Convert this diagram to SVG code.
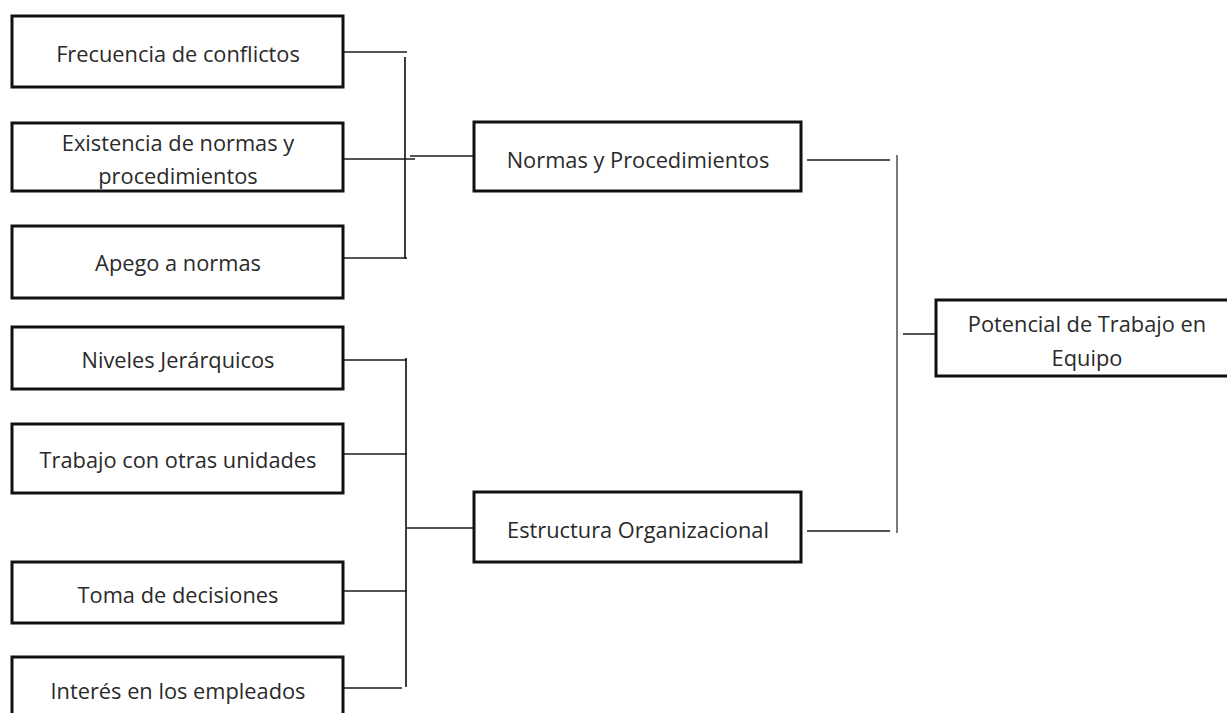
<svg xmlns="http://www.w3.org/2000/svg" width="1227" height="713" viewBox="0 0 1227 713">
  <style>
    .box { fill: #ffffff; stroke: #111111; stroke-width: 3; }
    .lbl { font-family: "Open Sans", "Liberation Sans", sans-serif; font-size: 21.8px; fill: #2a2a2a; text-anchor: middle; dominant-baseline: central; }
    .ln { stroke: #1a1a1a; stroke-width: 1.7; fill: none; }
    .lg { stroke: #7a7a7a; stroke-width: 2; fill: none; }
  </style>
  <rect width="1227" height="713" fill="#ffffff"/>

  <!-- connectors -->
  <g id="connectors">
    <!-- upper bracket -->
    <line class="ln" x1="343" y1="52" x2="407" y2="52"/>
    <line class="ln" x1="405" y1="57" x2="405" y2="259"/>
    <line class="ln" x1="343" y1="159" x2="415" y2="159"/>
    <line class="ln" x1="410" y1="156" x2="475" y2="156"/>
    <line class="ln" x1="343" y1="258" x2="407" y2="258"/>
    <!-- lower bracket -->
    <line class="ln" x1="343" y1="360" x2="407" y2="360"/>
    <line class="ln" x1="343" y1="454" x2="407" y2="454"/>
    <line class="ln" x1="406" y1="358" x2="406" y2="687"/>
    <line class="ln" x1="407" y1="528" x2="474" y2="528"/>
    <line class="ln" x1="343" y1="591" x2="407" y2="591"/>
    <line class="ln" x1="338" y1="688" x2="402" y2="688"/>
    <!-- right bracket -->
    <line class="ln" x1="807" y1="160" x2="890" y2="160"/>
    <line class="ln" x1="807" y1="531" x2="890" y2="531"/>
    <line class="lg" x1="897" y1="155" x2="897" y2="533"/>
    <line class="ln" x1="903" y1="334" x2="936" y2="334"/>
  </g>

  <g id="n-frecuencia">
    <rect class="box" x="12" y="16" width="331" height="71"/>
    <text class="lbl" x="178" y="53">Frecuencia de conflictos</text>
  </g>
  <g id="n-existencia">
    <rect class="box" x="12" y="123" width="331" height="68"/>
    <text class="lbl" x="178" y="142">Existencia de normas y</text>
    <text class="lbl" x="178" y="175">procedimientos</text>
  </g>
  <g id="n-apego">
    <rect class="box" x="12" y="226" width="331" height="72"/>
    <text class="lbl" x="178" y="262">Apego a normas</text>
  </g>
  <g id="n-niveles">
    <rect class="box" x="12" y="327" width="331" height="62"/>
    <text class="lbl" x="178" y="359">Niveles Jerárquicos</text>
  </g>
  <g id="n-trabajo">
    <rect class="box" x="12" y="424" width="331" height="69"/>
    <text class="lbl" x="178" y="459">Trabajo con otras unidades</text>
  </g>
  <g id="n-toma">
    <rect class="box" x="12" y="562" width="331" height="61"/>
    <text class="lbl" x="178" y="594">Toma de decisiones</text>
  </g>
  <g id="n-interes">
    <rect class="box" x="12" y="657" width="331" height="64"/>
    <text class="lbl" x="178" y="690">Interés en los empleados</text>
  </g>
  <g id="n-normas">
    <rect class="box" x="474" y="122" width="327" height="69"/>
    <text class="lbl" x="638" y="159">Normas y Procedimientos</text>
  </g>
  <g id="n-estructura">
    <rect class="box" x="474" y="492" width="327" height="70"/>
    <text class="lbl" x="638" y="529">Estructura Organizacional</text>
  </g>
  <g id="n-potencial">
    <rect class="box" x="936" y="300" width="300" height="76"/>
    <text class="lbl" x="1087" y="323">Potencial de Trabajo en</text>
    <text class="lbl" x="1087" y="357">Equipo</text>
  </g>
</svg>
